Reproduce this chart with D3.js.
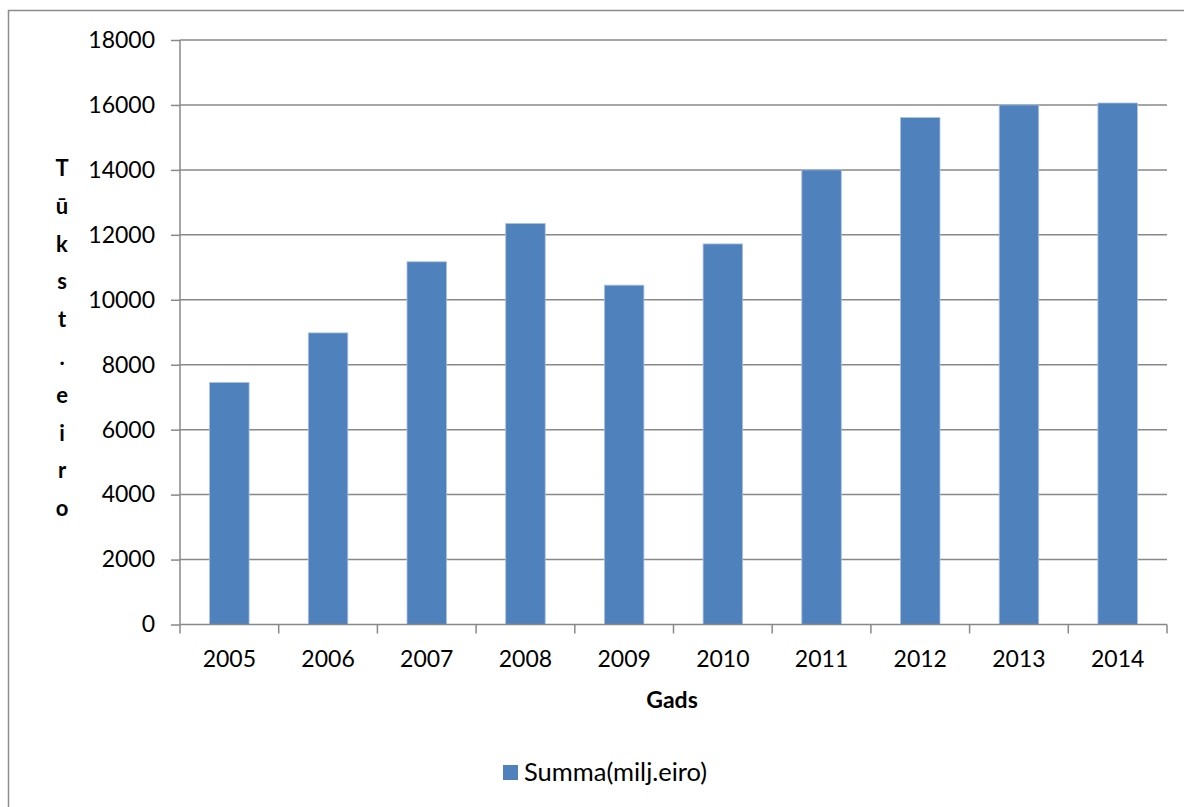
<!DOCTYPE html>
<html><head><meta charset="utf-8">
<script src="https://cdn.jsdelivr.net/npm/d3@7"></script>
<style>body{margin:0;background:#fff;}svg{display:block;font-family:Lato,"Open Sans",sans-serif;}</style>
</head><body>
<svg id="c" width="1184" height="807"></svg>
<script>
const years = ["2005","2006","2007","2008","2009","2010","2011","2012","2013","2014"];
const values = [7450, 8980, 11170, 12350, 10450, 11720, 14000, 15610, 16000, 16060];
const yTicks = [0,2000,4000,6000,8000,10000,12000,14000,16000,18000];
const yTitle = "Tūkst.eiro";
const xTitle = "Gads";
const seriesName = "Summa(milj.eiro)";

const svg = d3.select("#c");
const L = 180, R = 1167, T = 40, B = 624.5;
const x = d3.scaleBand().domain(years).range([L, R]).paddingInner(0.6).paddingOuter(0.3);
const y = d3.scaleLinear().domain([0, 18000]).range([B, T]);
const grey = "#888888";
const FF = "Lato,'Open Sans',sans-serif";

svg.append("rect").attr("x",8.5).attr("y",10.5).attr("width",1200).attr("height",820)
  .attr("fill","none").attr("stroke","#8c8c8c").attr("stroke-width",1.5);

// gridlines
svg.append("g").selectAll("line").data(yTicks.filter(d=>d>0)).join("line")
  .attr("x1",L).attr("x2",R).attr("y1",d=>y(d)).attr("y2",d=>y(d))
  .attr("stroke",grey).attr("stroke-width",1.5);

// bars
svg.append("g").selectAll("rect").data(values).join("rect")
  .attr("x",(d,i)=>x(years[i])).attr("width",x.bandwidth())
  .attr("y",d=>y(d)).attr("height",d=>B-y(d))
  .attr("fill","#4F81BD").attr("stroke","#a9c1e0").attr("stroke-width",0.8);

// y axis
const ya = svg.append("g").attr("transform",`translate(${L},0)`)
  .call(d3.axisLeft(y).tickValues(yTicks).tickSize(9).tickPadding(16).tickFormat(d3.format("d")));
ya.select(".domain").attr("stroke",grey).attr("stroke-width",1.5).attr("d",`M0,${T}V${B}`);
ya.selectAll(".tick line").attr("stroke",grey).attr("stroke-width",1.5);
ya.selectAll(".tick text").attr("fill","#000").style("font-size","23px").style("font-family",FF);

// x axis
const xa = svg.append("g").attr("transform",`translate(0,${B})`)
  .call(d3.axisBottom(x).tickSize(0).tickPadding(26));
xa.select(".domain").attr("stroke",grey).attr("stroke-width",1.5).attr("d",`M${L},0H${R}`);
xa.selectAll(".tick text").attr("fill","#000").style("font-size","23px").style("font-family",FF);
// category boundary ticks
const bounds = d3.range(years.length+1).map(i=>L + i*(R-L)/years.length);
svg.append("g").selectAll("line").data(bounds).join("line")
  .attr("x1",d=>d).attr("x2",d=>d).attr("y1",B).attr("y2",B+9)
  .attr("stroke",grey).attr("stroke-width",1.5);

// x title
svg.append("text").attr("x",672).attr("y",708).attr("text-anchor","middle")
  .style("font-size","23px").style("font-weight","bold").text(xTitle);

// y title stacked
svg.append("g").selectAll("text").data(Array.from(yTitle)).join("text")
  .attr("x",62).attr("y",(d,i)=>176+i*37.8).attr("text-anchor","middle")
  .style("font-size","22px").style("font-weight","bold").text(d=>d);

// legend
svg.append("rect").attr("x",503).attr("y",765).attr("width",15).attr("height",15).attr("fill","#4F81BD");
svg.append("text").attr("x",524).attr("y",781).style("font-size","25.5px").text(seriesName);
</script>
</body></html>
